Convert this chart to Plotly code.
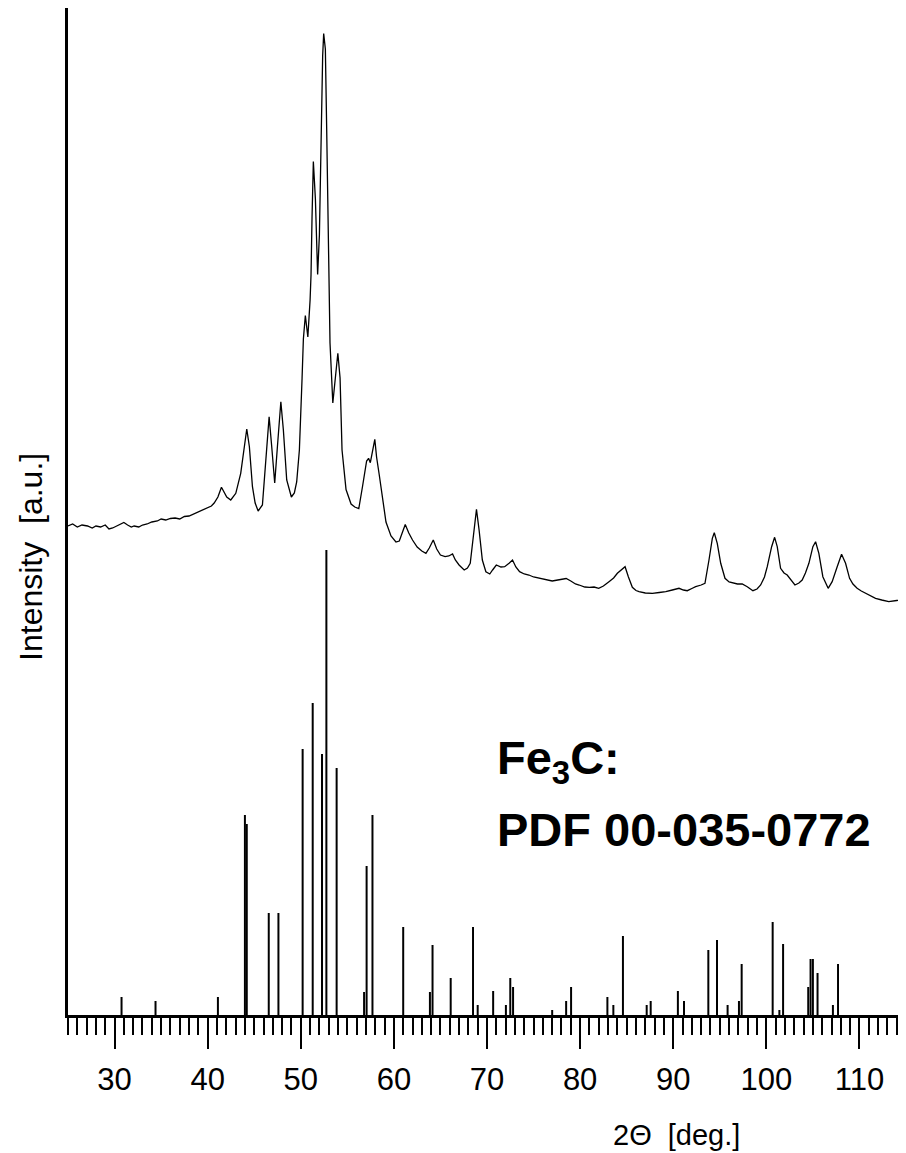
import plotly.graph_objects as go

# Measured XRD pattern (2-theta in degrees, intensity in arbitrary units)
two_theta = [25.0, 25.5, 26.0, 26.5, 27.1, 27.6, 28.0, 28.5, 29.0, 29.4, 29.8, 30.3, 30.7, 31.0, 31.4, 31.8,
             32.1, 32.6, 33.0, 33.5, 34.0, 34.6, 35.0, 35.5, 36.0, 36.5, 37.0, 37.5, 38.0, 38.5, 38.9, 39.4,
             40.0, 40.4, 40.7, 41.1, 41.48, 41.8, 42.05, 42.48, 43.02, 43.55, 43.92, 44.2, 44.48, 44.81, 45.1,
             45.42, 45.88, 46.23, 46.6, 46.88, 47.2, 47.49, 47.86, 48.13, 48.49, 48.99, 49.31, 49.56, 49.85,
             50.14, 50.28, 50.49, 50.76, 51.0, 51.1, 51.21, 51.35, 51.57, 51.81, 52.0, 52.18, 52.35, 52.46,
             52.64, 52.78, 52.99, 53.14, 53.44, 53.71, 53.98, 54.22, 54.43, 54.86, 55.4, 55.8, 56.23, 56.64,
             57.07, 57.28, 57.47, 57.95, 58.14, 58.43, 58.79, 59.15, 59.69, 60.22, 60.58, 60.9, 61.22, 61.6,
             62.0, 62.5, 63.0, 63.44, 63.8, 64.23, 64.6, 65.0, 65.5, 65.9, 66.3, 66.6, 67.0, 67.55, 67.9, 68.2,
             68.55, 68.87, 69.15, 69.5, 69.88, 70.3, 70.6, 71.0, 71.5, 71.9, 72.4, 72.74, 73.1, 73.5, 74.0,
             74.5, 75.0, 75.5, 76.3, 77.0, 77.6, 78.0, 78.5, 79.0, 79.5, 79.9, 80.5, 81.0, 81.5, 82.0, 82.5,
             83.1, 83.6, 84.0, 84.4, 84.83, 85.18, 85.61, 86.0, 86.33, 87.0, 87.76, 88.5, 89.2, 89.9, 90.62,
             91.1, 91.51, 92.0, 92.41, 93.0, 93.41, 93.84, 94.2, 94.41, 94.73, 95.1, 95.56, 96.0, 96.34, 96.9,
             97.41, 97.95, 98.56, 99.0, 99.39, 99.8, 100.1, 100.57, 100.89, 101.17, 101.53, 101.9, 102.24,
             102.7, 103.07, 103.5, 103.85, 104.2, 104.57, 105.0, 105.29, 105.64, 106.07, 106.64, 107.07,
             107.61, 108.08, 108.51, 108.94, 109.3, 109.75, 110.2, 110.65, 111.2, 111.73, 112.4, 113.15,
             114.0, 114.87]
intensity = [489, 491, 488, 490, 489, 487, 489, 488, 490, 486, 487, 489, 491, 492.5, 490, 488,
             489, 488, 490, 491, 493, 494, 496, 495, 496.5, 497, 496, 498.5, 499, 501, 503, 505,
             507.5, 509, 512, 518, 527.7, 522, 518, 515, 521.7, 541.7, 568.3, 586, 568.3, 528.3, 512,
             504, 510, 551.7, 598.3, 568.3, 532, 568.3, 613.3, 585, 535, 518, 522, 533, 565,
             637, 676, 699.5, 678, 715, 740, 798, 853.4, 816, 740.5, 780, 887.5, 959, 981.4,
             966, 887.5, 740, 672, 612, 637, 661.7, 637, 565, 525.5, 511, 508, 506.5, 529,
             554, 556.7, 552.3, 575.7, 558, 540, 515, 493, 479, 473, 474, 483, 490.5, 482,
             475, 468, 464, 461.7, 467, 475, 466, 460, 458.3, 459, 461, 455, 450, 445, 447, 451.7,
             481.7, 505.7, 485, 455, 443.3, 441, 445, 450, 448, 448.3, 452, 455, 448, 443.3, 441,
             440, 438, 437, 435, 434, 435, 436, 436.5, 434, 431, 430, 428, 427.7, 428, 426.7, 429,
             433.3, 437, 441.7, 445, 448.3, 438.3, 427.7, 424.5, 423.3, 422, 421.7, 422.5, 423.3, 425, 426.7,
             425, 424.3, 426.5, 428.3, 430, 431.7, 455, 476.7, 482.3, 471.7, 451.7, 436.7, 433, 432.3, 431,
             431, 428.3, 424.3, 426, 430, 438, 448.3, 468.3, 477.7, 468.3, 446.7, 442, 440,
             434, 430, 432, 435, 442, 451.7, 468.3, 473.3, 461.7, 438.3, 426.7, 433.3,
             448.3, 460.7, 451.7, 436.7, 431, 426.7, 424, 421.7, 419, 416.7, 415, 413.3,
             414.5, 415]

# Reference pattern Fe3C, PDF 00-035-0772 (positions and relative heights)
ref_pos = [30.75, 34.4, 41.1, 44.0, 44.2, 46.56, 47.6, 50.2, 51.28, 52.28, 52.75, 53.85, 56.8, 57.07,
           57.7, 61.0, 63.87, 64.15, 66.1, 68.5, 69.0, 70.66, 72.03, 72.5, 72.8, 77.0, 78.5, 79.03,
           82.93, 83.57, 84.6, 87.15, 87.58, 90.5, 91.16, 93.77, 94.7, 95.84, 97.06, 97.35, 100.68,
           101.4, 101.8, 104.5, 104.75, 105.0, 105.5, 107.15, 107.7]
ref_int = [18, 14, 18, 200, 191, 102, 102, 266, 312, 261, 465, 247, 23, 149,
           200, 88, 23, 70, 37, 88, 10, 24, 10, 37, 28, 5, 14, 28,
           18, 10, 79, 10, 14, 24, 14, 65, 75, 10, 14, 51, 93,
           5, 71, 28, 56, 56, 42, 10, 51]

x_ticks = [30, 40, 50, 60, 70, 80, 90, 100, 110]
x_title = "2\u0398\u00a0\u00a0[deg.]"
y_title = "Intensity\u00a0\u00a0[a.u.]"
label_1 = "<b>Fe<sub>3</sub>C:</b>"
label_2 = "<b>PDF 00-035-0772</b>"

stick_x, stick_y = [], []
for p, h in zip(ref_pos, ref_int):
    stick_x += [p, p, None]
    stick_y += [0, h, None]

fig = go.Figure()
fig.add_trace(go.Scatter(x=stick_x, y=stick_y, mode="lines",
                         line=dict(color="black", width=2), hoverinfo="skip"))
fig.add_trace(go.Scatter(x=two_theta, y=intensity, mode="lines",
                         line=dict(color="black", width=1.3)))

font_family = "Liberation Sans, Arial, sans-serif"
# the page body has an 8px default margin, so the figure is sized 8px smaller
fig.update_layout(
    width=898, height=1145,
    margin=dict(l=60, r=0, t=0, b=138),
    paper_bgcolor="white", plot_bgcolor="white",
    showlegend=False,
    font=dict(family=font_family, color="black"),
    xaxis=dict(range=[25, 115], showgrid=False, zeroline=False,
               showline=True, linecolor="black", linewidth=3,
               ticks="outside", ticklen=31, tickwidth=2, tickcolor="black",
               tickvals=x_ticks, ticktext=[str(t) for t in x_ticks],
               ticklabelstandoff=4,
               tickfont=dict(size=31, family=font_family),
               minor=dict(dtick=1, tick0=25, ticks="outside", ticklen=17, tickwidth=2,
                          tickcolor="black", showgrid=False)),
    yaxis=dict(range=[0, 1007], showgrid=False, zeroline=False,
               showline=True, linecolor="black", linewidth=3,
               ticks="", showticklabels=False),
)

fig.add_annotation(x=70.88, y=254, xref="x", yref="y", text=label_1, showarrow=False,
                   xanchor="left", yanchor="middle", font=dict(size=47, family=font_family))
fig.add_annotation(x=70.88, y=186, xref="x", yref="y", text=label_2, showarrow=False,
                   xanchor="left", yanchor="middle", font=dict(size=47, family=font_family))
fig.add_annotation(x=90.4, y=-0.119, xref="x", yref="paper", text=x_title, showarrow=False,
                   xanchor="center", yanchor="middle", font=dict(size=29, family=font_family))
fig.add_annotation(x=-0.044, y=0.455, xref="paper", yref="paper", text=y_title, showarrow=False,
                   textangle=-90, xanchor="center", yanchor="middle",
                   font=dict(size=32, family=font_family))

fig.write_html("out.html")
